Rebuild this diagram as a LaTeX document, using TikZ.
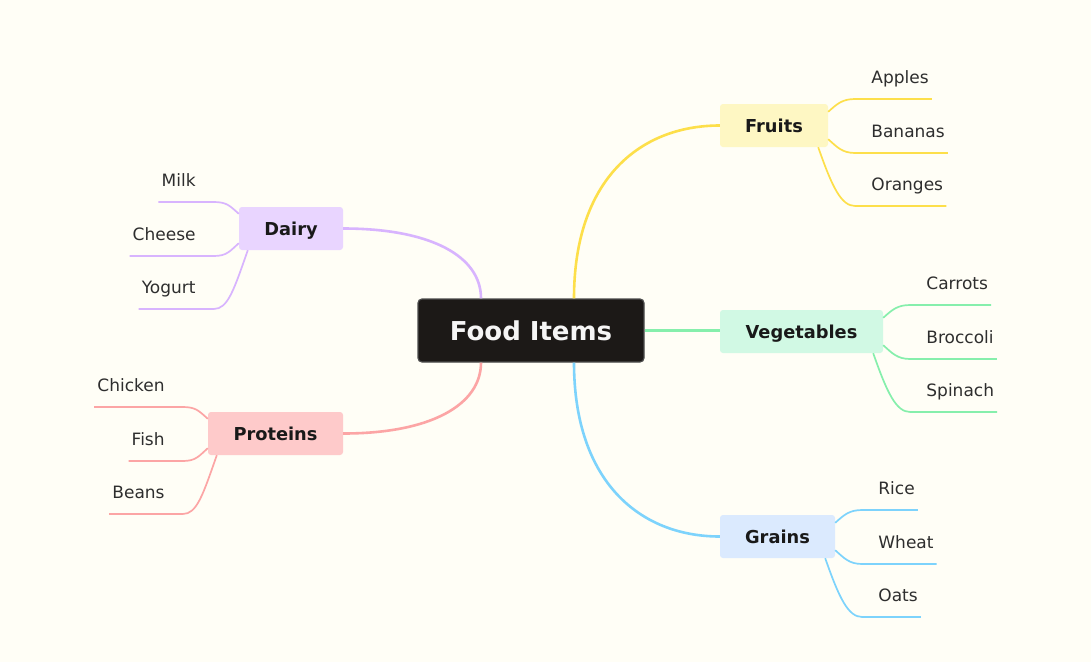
\documentclass[tikz,border=0pt]{standalone}
\usepackage{fontspec}
\setmainfont{DejaVu Sans}
\usepackage{tikz}
\usetikzlibrary{calc}

\definecolor{paper}{HTML}{FFFEF6}
\definecolor{rootfill}{HTML}{1C1917}
\definecolor{line-fruits}{HTML}{FDDF4A}
\definecolor{line-vegetables}{HTML}{86EFAC}
\definecolor{line-grains}{HTML}{7DD3FC}
\definecolor{line-dairy}{HTML}{D8B4FE}
\definecolor{line-proteins}{HTML}{FCA5A5}
\definecolor{fill-fruits}{HTML}{FEF7C3}
\definecolor{fill-vegetables}{HTML}{D1F9E4}
\definecolor{fill-grains}{HTML}{DBEAFE}
\definecolor{fill-dairy}{HTML}{E9D5FF}
\definecolor{fill-proteins}{HTML}{FECACA}

\begin{document}
\begin{tikzpicture}[x=1pt,y=-1pt,
    root/.style={fill=rootfill, draw=black!70, line width=1.2pt, rounded corners=4pt,
      text=white!96!black, font=\fontsize{26}{30}\selectfont\bfseries,
      text height=19pt, text depth=0pt, minimum width=226pt, minimum height=63pt},
    cat/.style={fill=fill-#1, rounded corners=3pt, text=black!90,
      font=\fontsize{17.8}{21}\selectfont\bfseries, text height=13pt, text depth=0pt,
      minimum height=43pt, inner sep=0pt},
    leaf/.style={text=black!82, font=\fontsize{17}{20}\selectfont, inner xsep=3pt, inner ysep=0pt},
    branch/.style={draw=line-#1, line width=2.6pt},
    twig/.style={draw=line-#1, line width=1.7pt}]
  \useasboundingbox[fill=paper] (0,0) rectangle (1091,662);

  \node[root] (main) at (531,330.5) {Food Items};
  \node[cat=fruits, minimum width=108pt] (fruits) at (774,125.5) {Fruits};
  \node[cat=vegetables, minimum width=163pt] (vegetables) at (801.5,331.5) {Vegetables};
  \node[cat=grains, minimum width=115pt] (grains) at (777.5,536.5) {Grains};
  \node[cat=dairy, minimum width=104pt] (dairy) at (291,228.5) {Dairy};
  \node[cat=proteins, minimum width=135pt] (proteins) at (275.5,433.5) {Proteins};

  % main branches
  \draw[branch=fruits] ([xshift=43pt]main.north) .. controls +(0,-119) and +(-80,0) .. (fruits.west);
  \draw[branch=grains] ([xshift=43pt]main.south) .. controls +(0,119) and +(-80,0) .. (grains.west);
  \draw[branch=vegetables] (main.east) -- (main.east -| vegetables.west);
  \draw[branch=dairy] (dairy.east) .. controls +(88,0) and +(0,-42) .. ([xshift=-50pt]main.north);
  \draw[branch=proteins] (proteins.east) .. controls +(88,0) and +(0,42) .. ([xshift=-50pt]main.south);

  % leaves on the right
  \foreach \c/\ia/\ib/\ic in {fruits/Apples/Bananas/Oranges,
      vegetables/Carrots/Broccoli/Spinach, grains/Rice/Wheat/Oats}{
    \node[leaf, anchor=base west] (\c-a) at ($(\c.east)+(40,-42.5)$) {\ia};
    \node[leaf, anchor=base west] (\c-b) at ($(\c.east)+(40,11.5)$) {\ib};
    \node[leaf, anchor=base west] (\c-c) at ($(\c.east)+(40,64.5)$) {\ic};
    \coordinate (\c-ea) at ($(\c.east)+(27,-26.5)$);
    \coordinate (\c-eb) at ($(\c.east)+(27,27.5)$);
    \coordinate (\c-ec) at ($(\c.east)+(27,80.5)$);
    \draw[twig=\c] ($(\c.north east)+(0,8)$) .. controls +(9,-8) and +(-13,0) .. (\c-ea) -- (\c-ea -| \c-a.east);
    \draw[twig=\c] ($(\c.south east)+(0,-8)$) .. controls +(9,8) and +(-13,0) .. (\c-eb) -- (\c-eb -| \c-b.east);
    \draw[twig=\c] ($(\c.south east)+(-10,0)$) .. controls +(14,40) and +(-14,0) .. (\c-ec) -- (\c-ec -| \c-c.east);
  }

  % leaves on the left
  \foreach \c/\ia/\ib/\ic in {dairy/Milk/Cheese/Yogurt, proteins/Chicken/Fish/Beans}{
    \node[leaf, anchor=base east] (\c-a) at ($(\c.west)+(-40,-42.5)$) {\ia};
    \node[leaf, anchor=base east] (\c-b) at ($(\c.west)+(-40,11.5)$) {\ib};
    \node[leaf, anchor=base east] (\c-c) at ($(\c.west)+(-40,64.5)$) {\ic};
    \coordinate (\c-ea) at ($(\c.west)+(-25,-26.5)$);
    \coordinate (\c-eb) at ($(\c.west)+(-25,27.5)$);
    \coordinate (\c-ec) at ($(\c.west)+(-25,80.5)$);
    \draw[twig=\c] ($(\c.north west)+(0,7)$) .. controls +(-9,-8) and +(13,0) .. (\c-ea) -- (\c-ea -| \c-a.west);
    \draw[twig=\c] ($(\c.south west)+(0,-7)$) .. controls +(-9,8) and +(13,0) .. (\c-eb) -- (\c-eb -| \c-b.west);
    \draw[twig=\c] ($(\c.south west)+(9,0)$) .. controls +(-14,40) and +(14,0) .. (\c-ec) -- (\c-ec -| \c-c.west);
  }
\end{tikzpicture}
\end{document}
